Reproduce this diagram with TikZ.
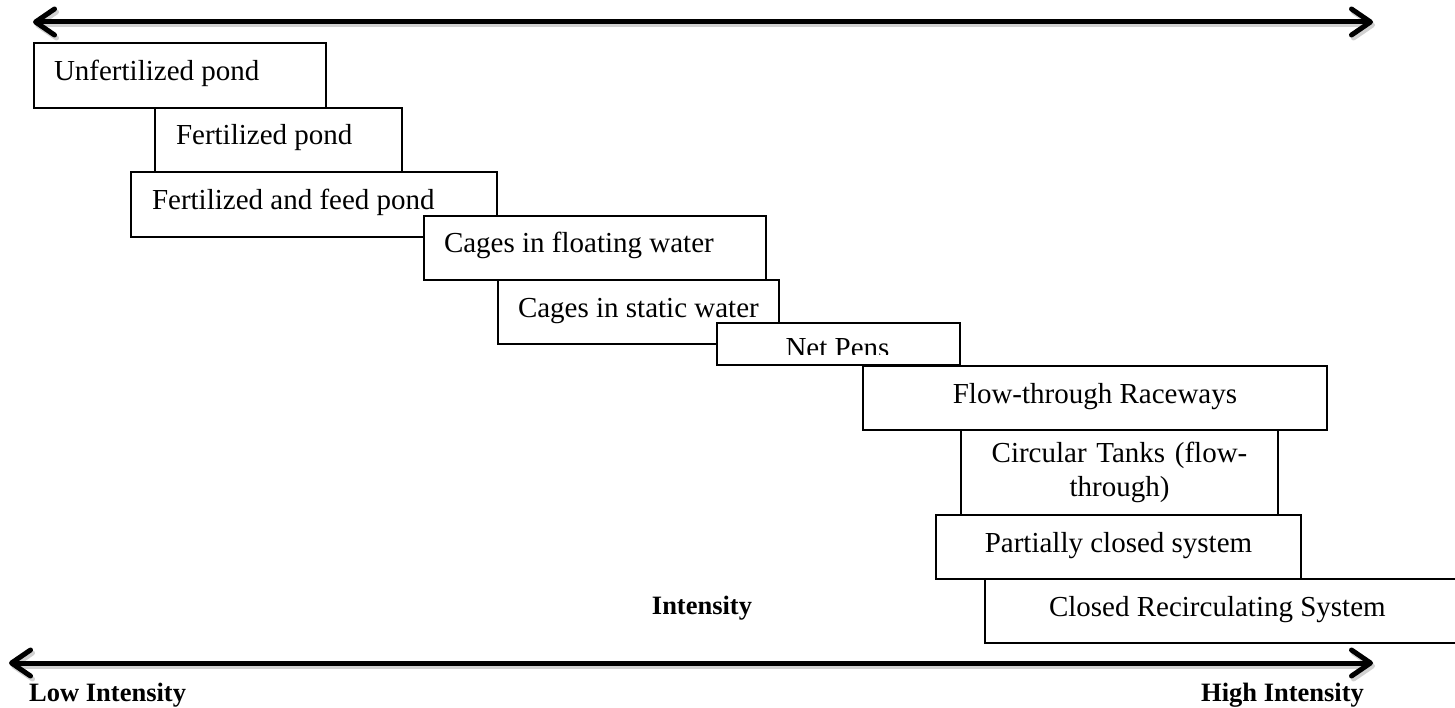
\documentclass[tikz,border=0pt]{standalone}
\usepackage{fontspec}
\setmainfont{Liberation Serif}
\usetikzlibrary{arrows.meta}
\newcommand{\boxfont}{\fontsize{29pt}{34pt}\selectfont}
\newcommand{\labfont}{\fontsize{26.5pt}{30pt}\selectfont\bfseries}
\newcommand{\lbox}[2]{\makebox[#1][l]{#2}}
\tikzset{
  x=1pt, y=-1pt,
  stagebox/.style={draw, fill=white, line width=2pt, anchor=north west,
    inner ysep=0pt, font=\boxfont},
  onetext/.style={text height=20pt, text depth=10pt},
  barb/.tip={Straight Barb[length=19pt,width=26pt,line cap=round,round]},
  bigarrow/.style={line width=5pt, line cap=round, barb-barb},
  shadowline/.style={line width=5pt, line cap=round, black!18, barb-barb},
  lab/.style={font=\labfont, inner sep=0pt}
}
\begin{document}
\begin{tikzpicture}
\useasboundingbox (0,0) rectangle (1455,708);
% arrows
\coordinate (tl) at (33,22);
\coordinate (tr) at (1373,22);
\coordinate (bl) at (9,663);
\coordinate (br) at (1373,663);
\draw[shadowline] ([shift={(2,3)}]tl) -- ([shift={(2,3)}]tr);
\draw[shadowline] ([shift={(2,3)}]bl) -- ([shift={(2,3)}]br);
\draw[bigarrow] (tl) -- (tr);
\draw[bigarrow] (bl) -- (br);
% boxes
\node[stagebox, onetext, minimum width=292pt, minimum height=65pt, inner xsep=20pt] (b1) at (33,42) {\lbox{252pt}{Unfertilized pond}};
\node[stagebox, onetext, minimum width=247pt, minimum height=64pt, inner xsep=21pt] (b2) at (154,107) {\lbox{205pt}{Fertilized pond}};
\node[stagebox, onetext, minimum width=366pt, minimum height=65pt, inner xsep=21pt] (b3) at (130,171) {\lbox{324pt}{Fertilized and feed pond}};
\node[stagebox, onetext, minimum width=342pt, minimum height=64pt, inner xsep=20pt] (b4) at (423,215) {\lbox{302pt}{Cages in floating water}};
\node[stagebox, onetext, minimum width=281pt, minimum height=64pt, inner xsep=20pt] (b5) at (497,279) {\lbox{241pt}{Cages in static water}};
\node[stagebox, minimum width=243pt, minimum height=42pt, inner xsep=0pt] (b6) at (716,322) {};
\begin{scope}
  \clip (716,322) rectangle (959,354.5);
  \node[font=\boxfont, anchor=base, inner sep=0pt] (b6t) at (837.5,357.5) {Net Pens};
\end{scope}
\node[stagebox, onetext, minimum width=464pt, minimum height=64pt, inner xsep=10pt] (b7) at (862,365) {\makebox[444pt][c]{Flow-through Raceways}};
\node[stagebox, align=center, minimum width=317pt, minimum height=85pt, inner xsep=10pt, text width=297pt] (b8) at (960,429) {Circular Tanks (flow-\\through)};
\node[stagebox, onetext, minimum width=365pt, minimum height=64pt, inner xsep=10pt] (b9) at (935,514) {\makebox[345pt][c]{Partially closed system}};
\node[stagebox, onetext, minimum width=474pt, minimum height=64pt, inner xsep=64pt] (b10) at (984,578) {\lbox{346pt}{Closed Recirculating System}};
% labels
\node[lab, anchor=base] (mid) at (702,614) {Intensity};
\node[lab, anchor=base west] (low) at (29,701) {Low Intensity};
\node[lab, anchor=base west] (high) at (1201,701) {High Intensity};
\end{tikzpicture}
\end{document}
